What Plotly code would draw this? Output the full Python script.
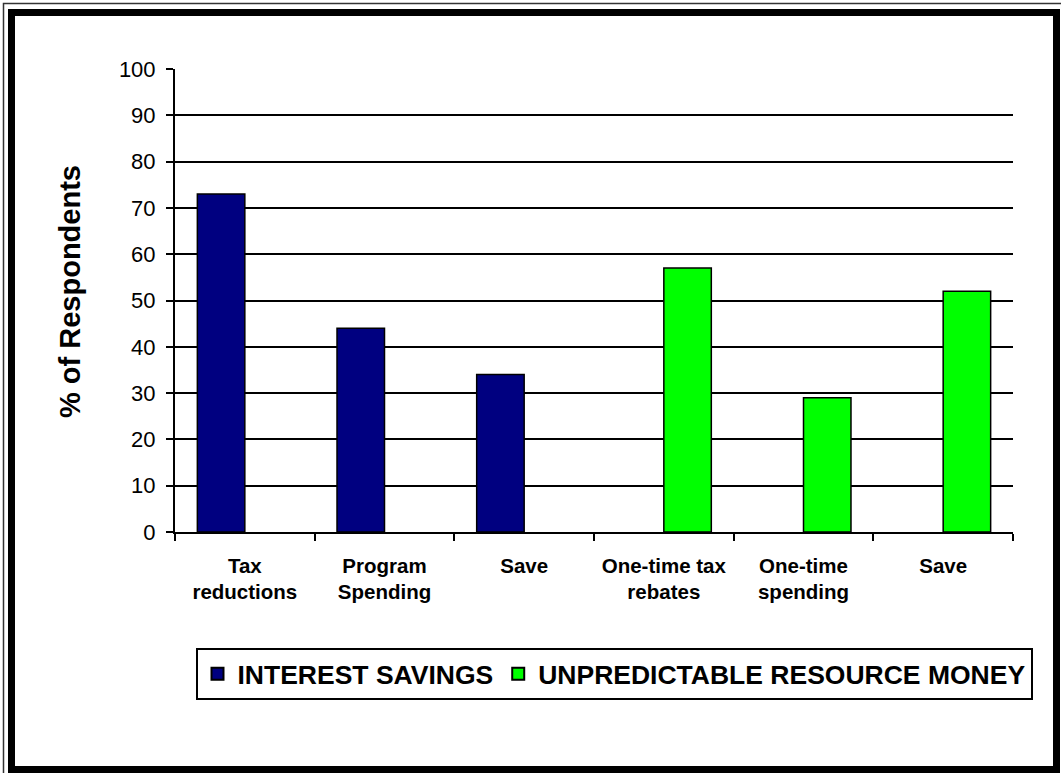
import plotly.graph_objects as go

categories = ["Tax reductions", "Program Spending", "Save (interest)",
              "One-time tax rebates", "One-time spending", "Save (resource)"]
tick_labels = ["Tax<br>reductions", "Program<br>Spending", "Save",
               "One-time tax<br>rebates", "One-time<br>spending", "Save"]
interest_savings = [73, 44, 34, None, None, None]
resource_money = [None, None, None, 57, 29, 52]
series_names = ["INTEREST SAVINGS", "UNPREDICTABLE RESOURCE MONEY"]
y_ticks = list(range(0, 101, 10))

W, H = 1061, 773
ML, MR, MT, MB = 175, 48, 69, 241
PW = W - ML - MR
PH = H - MT - MB


def px_x(px):
    return (px - ML) / PW


def px_y(py):
    return (H - MB - py) / PH


FONT = "Liberation Sans, Arial, sans-serif"

fig = go.Figure()
fig.add_trace(go.Bar(x=categories, y=interest_savings, name=series_names[0],
                     marker=dict(color="#000080", line=dict(color="black", width=1.5))))
fig.add_trace(go.Bar(x=categories, y=resource_money, name=series_names[1],
                     marker=dict(color="#00FF00", line=dict(color="black", width=1.5))))

fig.update_layout(
    width=W, height=H,
    margin=dict(l=ML, r=MR, t=MT, b=MB, autoexpand=False),
    paper_bgcolor="white", plot_bgcolor="white",
    barmode="group", bargap=0.32, bargroupgap=0,
    font=dict(family=FONT, color="black"),
    showlegend=True,
    legend=dict(orientation="h", x=px_x(614), y=px_y(648), xanchor="center", yanchor="top",
                bordercolor="black", borderwidth=2, bgcolor="white",
                font=dict(family=FONT, size=26.5, weight="bold", color="black"),
                itemsizing="constant", tracegroupgap=0),
    xaxis=dict(type="category", tickmode="array", tickvals=categories, ticktext=tick_labels,
               tickson="boundaries", ticks="outside", ticklen=7, tickwidth=2, tickcolor="black",
               showline=True, linecolor="black", linewidth=2, showgrid=False,
               tickfont=dict(family=FONT, size=20.5, weight="bold", color="black"),
               ticklabelstandoff=14),
    yaxis=dict(range=[0, 100], tickmode="array", tickvals=y_ticks, ticks="outside",
               ticklen=7, tickwidth=2, tickcolor="black",
               showline=True, linecolor="black", linewidth=2,
               showgrid=True, gridcolor="black", gridwidth=1.5, zeroline=False,
               tickfont=dict(family=FONT, size=22, color="black"),
               ticklabelstandoff=6),
    annotations=[dict(text="<b>% of Respondents</b>", textangle=-90, showarrow=False,
                      xref="paper", yref="paper", x=px_x(70), y=px_y(292),
                      xanchor="center", yanchor="middle",
                      font=dict(family=FONT, size=29, color="black"))],
    shapes=[
        dict(type="rect", xref="paper", yref="paper", layer="above",
             x0=px_x(3.5), y0=px_y(780), x1=px_x(1070), y1=px_y(3.5),
             line=dict(color="#333333", width=1.5)),
        dict(type="rect", xref="paper", yref="paper", layer="above",
             x0=px_x(11.5), y0=px_y(769.5), x1=px_x(1056.5), y1=px_y(12.5),
             line=dict(color="black", width=7)),
    ],
)

fig.write_html("out.html", config={"displayModeBar": False},
               post_script="document.body.style.margin='0';document.body.style.overflow='hidden';")
